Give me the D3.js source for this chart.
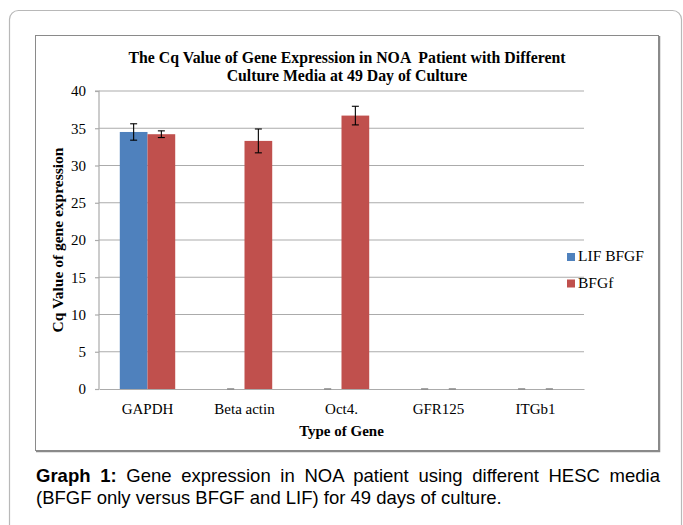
<!DOCTYPE html>
<html>
<head>
<meta charset="utf-8">
<script src="https://cdn.jsdelivr.net/npm/d3@7/dist/d3.min.js"></script>
<style>
  html, body { margin: 0; padding: 0; background: #ffffff; }
  svg { display: block; }
</style>
</head>
<body>
<svg id="chart" width="683" height="525"></svg>
<script>
// ---- data ----
const categories = ["GAPDH", "Beta actin", "Oct4.", "GFR125", "ITGb1"];
const seriesNames = ["LIF BFGF", "BFGf"];
const lifBfgf = [34.5, 0, 0, 0, 0];
const lifBfgfErr = [1.1, 0, 0, 0, 0];
const bfgf = [34.2, 33.3, 36.7, 0, 0];
const bfgfErr = [0.45, 1.6, 1.25, 0, 0];
const yTicks = [0, 5, 10, 15, 20, 25, 30, 35, 40];
const seriesColors = ["#4F81BD", "#C0504D"];

const svg = d3.select("#chart");
const serif = "'Liberation Serif', 'Times New Roman', serif";
const sans = "'Liberation Sans', Arial, sans-serif";

// outer rounded frame
svg.append("rect")
  .attr("x", 9.5).attr("y", 10.5)
  .attr("width", 672).attr("height", 540)
  .attr("rx", 9).attr("ry", 9)
  .attr("fill", "none").attr("stroke", "#b8b8b8").attr("stroke-width", 1.2);

// inner chart frame
svg.append("rect")
  .attr("x", 35.5).attr("y", 35.5)
  .attr("width", 623).attr("height", 415)
  .attr("fill", "#fff").attr("stroke", "#8a8a8a").attr("stroke-width", 1);
svg.append("path")
  .attr("d", "M659.5,36 L659.5,451.5 L36,451.5")
  .attr("fill", "none").attr("stroke", "#8a8a8a").attr("stroke-width", 1.5);

// scales
const plot = { left: 99, right: 584, top: 91, bottom: 389 };
const gapRatio = 1.5 / 3.5;
const x0 = d3.scaleBand().domain(categories).range([plot.left, plot.right])
  .paddingInner(gapRatio).paddingOuter(gapRatio / 2);
const x1 = d3.scaleBand().domain(seriesNames).range([0, x0.bandwidth()]);
const y = d3.scaleLinear().domain([0, 40]).range([plot.bottom, plot.top]);

// gridlines
const g = svg.append("g");
g.selectAll("line.grid").data(yTicks.filter(t => t > 0)).enter().append("line")
  .attr("x1", plot.left).attr("x2", plot.right)
  .attr("y1", d => y(d)).attr("y2", d => y(d))
  .attr("stroke", "#ababab").attr("stroke-width", 1.2);

// y axis
const yAxis = d3.axisLeft(y).tickValues(yTicks).tickSize(4).tickPadding(9).tickFormat(d3.format("d"));
const ya = svg.append("g").attr("transform", `translate(${plot.left},0)`).call(yAxis);
ya.select(".domain").attr("stroke", "#ababab").attr("stroke-width", 1.2).attr("d", `M-4,${plot.top}H0V${plot.bottom}`);
ya.selectAll(".tick line").attr("stroke", "#ababab").attr("stroke-width", 1.2);
ya.selectAll(".tick text").attr("font-family", serif).attr("font-size", 15).attr("fill", "#000");

// x axis
const xAxis = d3.axisBottom(x0).tickSize(0).tickPadding(14);
const xa = svg.append("g").attr("transform", `translate(0,${plot.bottom})`).call(xAxis);
xa.select(".domain").attr("stroke", "#ababab").attr("stroke-width", 1.2);
xa.selectAll(".tick text").attr("font-family", serif).attr("font-size", 15).attr("fill", "#000");

// bars
const rows = categories.map((c, i) => ({
  cat: c,
  vals: [
    { s: seriesNames[0], v: lifBfgf[i], e: lifBfgfErr[i], c: seriesColors[0] },
    { s: seriesNames[1], v: bfgf[i], e: bfgfErr[i], c: seriesColors[1] }
  ]
}));
const grp = svg.selectAll("g.cat").data(rows).enter().append("g")
  .attr("transform", d => `translate(${x0(d.cat)},0)`);
grp.selectAll("rect").data(d => d.vals).enter().append("rect")
  .attr("x", d => x1(d.s))
  .attr("width", x1.bandwidth())
  .attr("y", d => y(d.v))
  .attr("height", d => y(0) - y(d.v))
  .attr("fill", d => d.c);

// error bars
const eb = grp.selectAll("g.err").data(d => d.vals).enter().append("g")
  .attr("stroke", d => d.v > 0 ? "#000" : "#8c8c8c").attr("stroke-width", 1.1);
eb.append("line")
  .attr("x1", d => x1(d.s) + x1.bandwidth() / 2).attr("x2", d => x1(d.s) + x1.bandwidth() / 2)
  .attr("y1", d => y(d.v + d.e)).attr("y2", d => y(d.v - d.e));
eb.append("line")
  .attr("x1", d => x1(d.s) + x1.bandwidth() / 2 - 3.5).attr("x2", d => x1(d.s) + x1.bandwidth() / 2 + 3.5)
  .attr("y1", d => y(d.v + d.e)).attr("y2", d => y(d.v + d.e));
eb.append("line")
  .attr("x1", d => x1(d.s) + x1.bandwidth() / 2 - 3.5).attr("x2", d => x1(d.s) + x1.bandwidth() / 2 + 3.5)
  .attr("y1", d => y(d.v - d.e)).attr("y2", d => y(d.v - d.e));

// title
const title = svg.append("text").attr("text-anchor", "middle").attr("xml:space", "preserve")
  .attr("font-family", serif).attr("font-weight", "bold").attr("font-size", 15.8).attr("fill", "#000");
title.append("tspan").attr("x", 347).attr("y", 63)
  .text("The Cq Value of Gene Expression in NOA  Patient with Different");
title.append("tspan").attr("x", 347).attr("y", 81)
  .text("Culture Media at 49 Day of Culture");

// axis titles
svg.append("text")
  .attr("transform", `translate(63,${(plot.top + plot.bottom) / 2}) rotate(-90)`)
  .attr("text-anchor", "middle")
  .attr("font-family", serif).attr("font-weight", "bold").attr("font-size", 15.5)
  .text("Cq Value of gene expression");
svg.append("text")
  .attr("x", (plot.left + plot.right) / 2).attr("y", 436)
  .attr("text-anchor", "middle")
  .attr("font-family", serif).attr("font-weight", "bold").attr("font-size", 15)
  .text("Type of Gene");

// legend
const leg = svg.selectAll("g.leg").data(seriesNames).enter().append("g")
  .attr("transform", (d, i) => `translate(567,${253 + i * 26.5})`);
leg.append("rect").attr("width", 8).attr("height", 8).attr("fill", (d, i) => seriesColors[i]);
leg.append("text").attr("x", 11).attr("y", 8)
  .attr("font-family", serif).attr("font-size", 15.5).attr("fill", "#000")
  .text(d => d);

// caption
const capSize = 18.5;
const cap1 = svg.append("text").attr("x", 36).attr("y", 482)
  .attr("font-family", sans).attr("font-size", capSize).attr("fill", "#000");
cap1.append("tspan").attr("font-weight", "bold").text("Graph 1:");
cap1.append("tspan").text(" Gene expression in NOA patient using different HESC media");
const natural = cap1.node().getComputedTextLength();
const spaces = 10;
cap1.attr("word-spacing", Math.max(0, (660 - 36 - natural) / spaces));
svg.append("text").attr("x", 36).attr("y", 504)
  .attr("font-family", sans).attr("font-size", capSize).attr("fill", "#000")
  .text("(BFGF only versus BFGF and LIF) for 49 days of culture.");
</script>
</body>
</html>
